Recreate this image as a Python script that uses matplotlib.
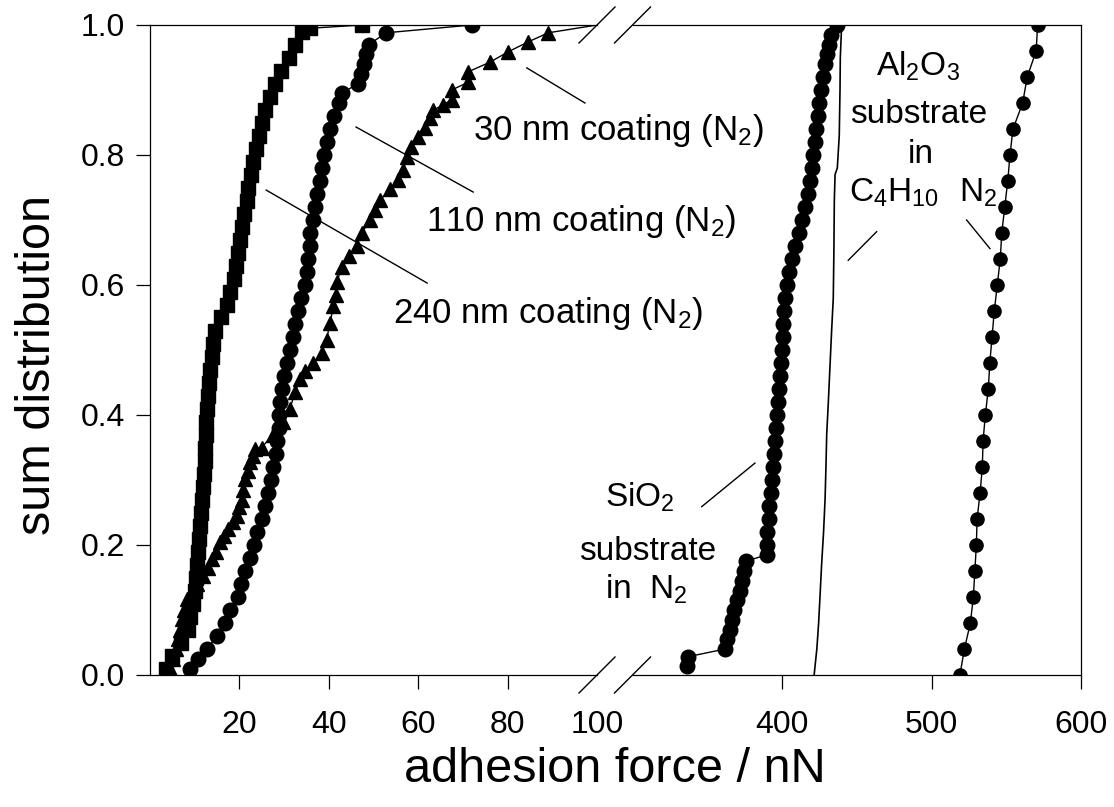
import matplotlib
matplotlib.use("Agg")
import matplotlib.pyplot as plt

plt.rcParams['font.family'] = ['Liberation Sans', 'DejaVu Sans']
plt.rcParams['mathtext.fontset'] = 'custom'
plt.rcParams['mathtext.rm'] = 'Liberation Sans'
plt.rcParams['mathtext.it'] = 'Liberation Sans:italic'

# 240 nm coating (N2) - squares
sq_x = [3.5, 5.0, 7.0, 8.4, 9.0, 9.6, 10.0, 10.3, 10.5, 10.8, 11.0, 11.2, 11.4,
        11.6, 11.8, 12.0, 12.2, 12.3, 12.5, 12.6, 12.7, 12.9, 13.2, 13.5, 13.8,
        14.1, 14.5, 15.8, 17.2, 18.0, 18.8, 19.2, 19.7, 20.2, 20.6, 21.1, 21.6,
        22.0, 22.5, 23.0, 23.7, 24.4, 25.1, 25.8, 26.8, 28.0, 29.4, 31.0, 32.5,
        34.0, 35.8, 47.4]
sq_y = [0.01, 0.03, 0.05, 0.07, 0.09, 0.11, 0.13, 0.15, 0.17, 0.19, 0.21, 0.23,
        0.25, 0.27, 0.29, 0.31, 0.33, 0.35, 0.37, 0.39, 0.41, 0.43, 0.45, 0.47,
        0.49, 0.51, 0.53, 0.55, 0.57, 0.59, 0.61, 0.63, 0.65, 0.67, 0.69, 0.71,
        0.73, 0.75, 0.77, 0.79, 0.81, 0.83, 0.85, 0.87, 0.89, 0.91, 0.93, 0.95,
        0.97, 0.99, 0.995, 1.0]

# 110 nm coating (N2) - circles
ci_x = [9.0, 10.8, 12.7, 15.0, 16.8, 18.0, 19.6, 20.4, 21.3, 22.3, 23.3, 24.0,
        25.0, 25.8, 26.5, 27.1, 27.6, 28.1, 28.5, 28.8, 28.9, 29.1, 29.5, 30.0,
        30.6, 31.3, 32.0, 32.5, 33.0, 33.8, 34.6, 35.1, 35.4, 35.7, 35.9, 36.4,
        36.9, 37.4, 38.0, 38.5, 39.0, 39.6, 40.2, 41.2, 42.3, 42.9, 46.6, 47.3,
        47.8, 48.3, 49.0, 52.8, 72.0]
ci_y = [0.01, 0.025, 0.04, 0.06, 0.08, 0.10, 0.12, 0.14, 0.16, 0.18, 0.20, 0.22,
        0.24, 0.26, 0.28, 0.30, 0.32, 0.34, 0.36, 0.38, 0.40, 0.42, 0.44, 0.46,
        0.48, 0.50, 0.52, 0.54, 0.56, 0.58, 0.60, 0.62, 0.64, 0.66, 0.68, 0.70,
        0.72, 0.74, 0.76, 0.78, 0.80, 0.82, 0.84, 0.86, 0.88, 0.895, 0.91, 0.925,
        0.94, 0.955, 0.97, 0.988, 1.0]

# 30 nm coating (N2) - triangles
tr_x = [4.5, 5.2, 5.8, 6.3, 6.8, 7.1, 7.6, 8.2, 9.5, 10.5, 11.9, 13.0, 13.8,
        14.8, 15.7, 16.6, 17.5, 18.5, 19.4, 20.0, 20.5, 20.9, 21.3, 21.9, 22.4,
        23.0, 23.5, 25.0, 27.5, 29.8, 31.3, 32.4, 33.6, 34.7, 36.5, 38.4, 39.5,
        40.3, 41.0, 41.5, 41.8, 42.9, 44.5, 46.2, 47.4, 49.2, 50.3, 51.5, 53.7,
        55.5, 56.7, 57.4, 58.5, 60.0, 61.5, 62.6, 63.4, 65.5, 67.5, 67.5, 71.2,
        71.2, 76.1, 80.2, 84.6, 89.1, 100.0]
tr_y = [0.01, 0.025, 0.04, 0.055, 0.07, 0.086, 0.10, 0.117, 0.13, 0.14, 0.152,
        0.165, 0.178, 0.19, 0.204, 0.214, 0.224, 0.235, 0.245, 0.258, 0.27,
        0.285, 0.301, 0.314, 0.327, 0.337, 0.347, 0.35, 0.37, 0.389, 0.409,
        0.435, 0.455, 0.467, 0.48, 0.496, 0.516, 0.542, 0.567, 0.585, 0.604,
        0.628, 0.645, 0.66, 0.68, 0.70, 0.716, 0.731, 0.747, 0.762, 0.777,
        0.797, 0.813, 0.828, 0.842, 0.857, 0.869, 0.877, 0.885, 0.90, 0.912,
        0.928, 0.943, 0.959, 0.974, 0.988, 1.0]

# SiO2 substrate in N2
si_x = [336.5, 336.8, 362.0, 363.5, 365.2, 366.6, 368.2, 370.0, 371.6, 373.0,
        374.6, 376.0, 389.8, 390.0, 390.2, 391.0, 391.6, 392.4, 393.2, 394.0,
        394.8, 395.5, 396.2, 396.8, 397.5, 398.1, 398.7, 399.3, 399.9, 400.5,
        401.0, 401.5, 402.3, 403.5, 405.0, 407.0, 409.0, 411.4, 413.5, 415.6,
        417.4, 418.8, 420.0, 421.0, 421.8, 422.7, 423.8, 425.0, 426.4, 427.7,
        429.0, 430.0, 431.2, 433.0, 436.6]
si_y = [0.014, 0.028, 0.04, 0.055, 0.07, 0.085, 0.10, 0.115, 0.13, 0.145, 0.16,
        0.175, 0.185, 0.20, 0.22, 0.24, 0.26, 0.28, 0.30, 0.32, 0.34, 0.36,
        0.38, 0.40, 0.42, 0.44, 0.46, 0.48, 0.50, 0.52, 0.54, 0.56, 0.58, 0.60,
        0.62, 0.64, 0.66, 0.68, 0.70, 0.72, 0.74, 0.76, 0.78, 0.80, 0.82, 0.84,
        0.86, 0.88, 0.90, 0.92, 0.94, 0.955, 0.97, 0.985, 1.0]

# Al2O3 substrate in C4H10 (thin line)
c4_x = [421.5, 423.3, 424.5, 425.4, 426.5, 427.8, 428.8, 429.4, 429.9, 431.0,
        432.1, 433.2, 434.3, 434.7, 435.0, 435.5, 437.0, 438.3, 438.8, 439.0,
        439.9]
c4_y = [0.0, 0.04, 0.08, 0.12, 0.17, 0.22, 0.27, 0.32, 0.37, 0.42, 0.475, 0.53,
        0.58, 0.65, 0.73, 0.77, 0.78, 0.83, 0.90, 0.95, 1.0]

# Al2O3 substrate in N2
al_x = [519, 522, 526, 528, 529, 530, 530.5, 532.5, 534, 534.5, 536, 538, 539,
        540.5, 542, 544, 546, 547, 549, 551, 552.5, 554.5, 561, 564, 570, 571]
al_y = [0.0, 0.04, 0.08, 0.12, 0.16, 0.20, 0.24, 0.28, 0.32, 0.36, 0.40, 0.44,
        0.48, 0.52, 0.56, 0.60, 0.64, 0.68, 0.72, 0.76, 0.80, 0.84, 0.88, 0.92,
        0.96, 1.0]

left_ticks = [20, 40, 60, 80, 100]
right_ticks = [400, 500, 600]
y_ticks = [0.0, 0.2, 0.4, 0.6, 0.8, 1.0]

W, H = 1114, 807
fig = plt.figure(figsize=(W / 100, H / 100), dpi=100)
ax1 = fig.add_axes([150 / W, 1 - 675 / H, 447 / W, 650 / H])
ax2 = fig.add_axes([632.5 / W, 1 - 675 / H, 448.5 / W, 650 / H])
ax2.patch.set_visible(False)

line_kw = dict(color='black', lw=1.0, mfc='black', mec='black')
ax1.plot(sq_x, sq_y, marker='s', ms=10.5, **line_kw)
ax1.plot(ci_x, ci_y, marker='o', ms=10.5, **line_kw)
ax1.plot(tr_x, tr_y, marker='^', ms=9.5, markevery=list(range(len(tr_x) - 1)), **line_kw)

ax2.plot(si_x, si_y, marker='o', ms=10.5, **line_kw)
ax2.plot(c4_x, c4_y, color='black', lw=1.2)
ax2.plot(al_x, al_y, marker='o', ms=9.5, **line_kw)

ax1.set_xlim(0, 100)
ax2.set_xlim(300, 600)
for ax in (ax1, ax2):
    ax.set_ylim(0, 1.0)
    for sp in ax.spines.values():
        sp.set_linewidth(0.9)
    ax.tick_params(direction='out', length=10, width=0.9, labelsize=23,
                   top=False, right=False)
    ax.tick_params(axis='x', pad=15)

ax1.spines['right'].set_visible(False)
ax2.spines['left'].set_visible(False)
ax2.tick_params(axis='y', left=False, labelleft=False)

ax1.set_xticks(left_ticks)
ax1.xaxis.get_major_ticks()[-1].tick1line.set_visible(False)
ax2.set_xticks(right_ticks)
ax1.set_yticks(y_ticks)
ax1.set_yticklabels([f"{v:.1f}" for v in y_ticks])
ax1.tick_params(axis='y', pad=8)

# break marks
dx1, dy = 18 / 447, 18 / 650
dx2 = 18 / 448.5
for yy in (0, 1):
    ax1.plot([1 - dx1, 1 + dx1], [yy - dy, yy + dy], transform=ax1.transAxes,
             color='black', lw=1.0, clip_on=False)
    ax2.plot([-dx2, dx2], [yy - dy, yy + dy], transform=ax2.transAxes,
             color='black', lw=1.0, clip_on=False)

# annotations
fs = 25
ax1.text(72.3, 0.823, "30 nm coating (N$_2$)", fontsize=fs, ha='left', va='baseline')
ax1.plot([84.3, 97.3], [0.934, 0.88], color='black', lw=1.0)
ax1.text(61.7, 0.683, "110 nm coating (N$_2$)", fontsize=fs, ha='left', va='baseline')
ax1.plot([46.1, 72.3], [0.843, 0.743], color='black', lw=1.0)
ax1.text(54.4, 0.5415, "240 nm coating (N$_2$)", fontsize=fs, ha='left', va='baseline')
ax1.plot([26.0, 62.0], [0.746, 0.603], color='black', lw=1.0)

fs2 = 24
ax2.text(305, 0.2585, "SiO$_2$", fontsize=fs2, ha='center', va='baseline')
ax2.text(310.4, 0.177, "substrate", fontsize=fs2, ha='center', va='baseline')
ax2.text(309, 0.118, "in  N$_2$", fontsize=fs2, ha='center', va='baseline')
ax2.plot([346.3, 381.9], [0.259, 0.326], color='black', lw=1.0)

ax2.text(490.9, 0.9215, "Al$_2$O$_3$", fontsize=fs2, ha='center', va='baseline')
ax2.text(491.6, 0.849, "substrate", fontsize=fs2, ha='center', va='baseline')
ax2.text(493, 0.788, "in", fontsize=fs2, ha='center', va='baseline')
ax2.text(474.6, 0.728, "C$_4$H$_{10}$", fontsize=fs2, ha='center', va='baseline')
ax2.text(531.4, 0.728, "N$_2$", fontsize=fs2, ha='center', va='baseline')
ax2.plot([444.3, 463.3], [0.638, 0.682], color='black', lw=1.0)
ax2.plot([523.5, 539.1], [0.70, 0.656], color='black', lw=1.0)

fig.text(38 / W, 1 - 365 / H, "sum distribution", fontsize=35, rotation=90,
         ha='center', va='center')
fig.text(615 / W, 1 - 770 / H, "adhesion force / nN", fontsize=35,
         ha='center', va='center')

fig.savefig("out.png", dpi=100)
